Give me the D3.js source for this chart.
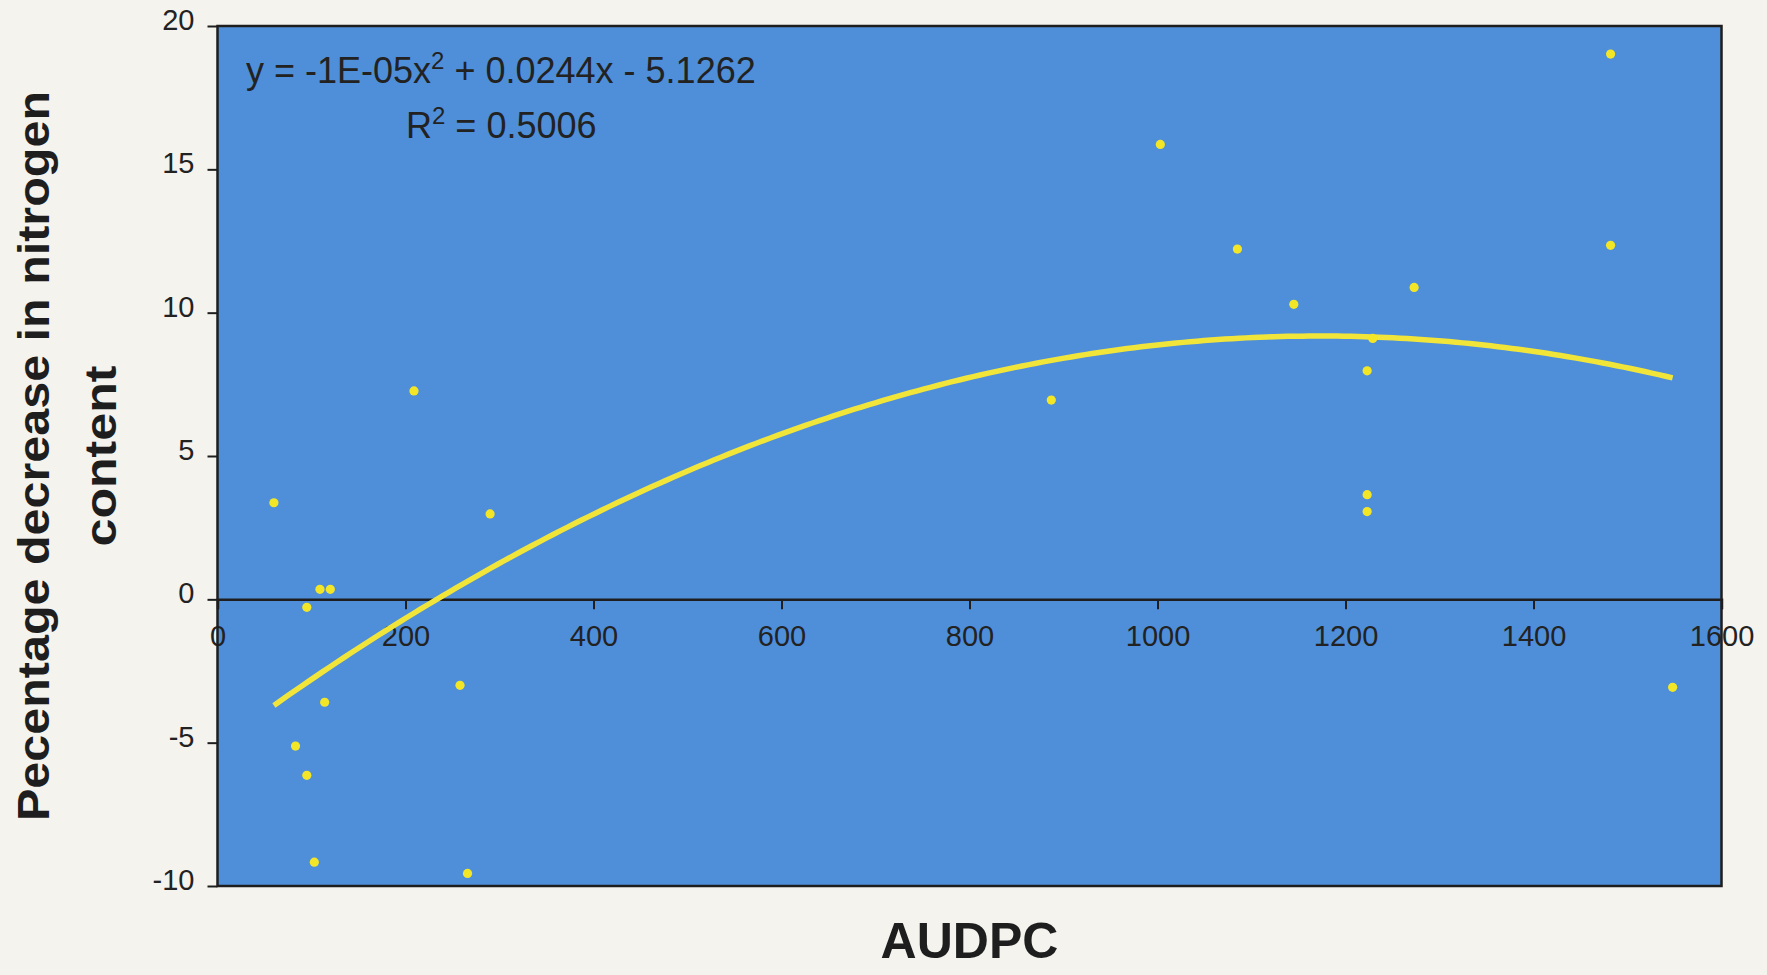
<!DOCTYPE html>
<html><head><meta charset="utf-8">
<script src="https://cdn.jsdelivr.net/npm/d3@7"></script>
<style>body{margin:0;background:#f4f3ee;} svg{display:block}</style>
</head><body>
<svg id="chart" width="1767" height="975"></svg>
<script>
// ---- data ----
const audpc = [60,95,109,120,83,95,114,103,209,290,258,266,887,1003,1085,1145,1223,1229,1223,1223,1273,1482,1482,1548];
const nDecrease = [3.37,-0.28,0.35,0.35,-5.12,-6.14,-3.59,-9.17,7.27,2.98,-3.0,-9.56,6.95,15.87,12.22,10.29,7.97,9.1,3.65,3.06,10.88,19.02,12.35,-3.07];
const xTicks = [0,200,400,600,800,1000,1200,1400,1600];
const yTicks = [-10,-5,0,5,10,15,20];
const trendCoef = [-1.04e-5, 0.0244, -5.1262]; // a, b, c of polynomial trendline
const eqParts = ["y = -1E-05x", "2", " + 0.0244x - 5.1262"];
const r2Parts = ["R", "2", " = 0.5006"];
const xTitle = "AUDPC";
const yTitleLines = ["Pecentage decrease in nitrogen", "content"];

// ---- layout ----
const W = 1767, H = 975;
const m = {left: 217.5, right: W - 1721.5, top: 26, bottom: H - 886};
const svg = d3.select("#chart");
svg.append("rect").attr("width", W).attr("height", H).attr("fill", "#f4f3ee");

const x = d3.scaleLinear().domain([0, 1600]).range([m.left, W - m.right]);
const y = d3.scaleLinear().domain([-10, 20]).range([H - m.bottom, m.top]);

const textCol = "#222222";
const font = "Liberation Sans, Arial, sans-serif";
const fmt = d => String(d);

// plot area
svg.append("rect")
  .attr("x", x(0)).attr("y", y(20))
  .attr("width", x(1600) - x(0)).attr("height", y(-10) - y(20))
  .attr("fill", "#4f8fd9");

// y axis
const gy = svg.append("g").attr("transform", `translate(${x(0)},0)`)
  .call(d3.axisLeft(y).tickValues(yTicks).tickSize(10).tickPadding(13).tickFormat(fmt));
gy.select(".domain").remove();
gy.selectAll("line").attr("stroke", "#1e1e1e").attr("stroke-width", 2);
gy.selectAll("text").attr("font-family", font).attr("font-size", 29).attr("fill", textCol).attr("dy", "0.12em");

// x axis on the zero line
const gx = svg.append("g").attr("transform", `translate(0,${y(0)})`)
  .call(d3.axisBottom(x).tickValues(xTicks).tickSize(10).tickPadding(16).tickFormat(fmt));
gx.select(".domain").attr("stroke", "#1e1e1e").attr("stroke-width", 2.5);
gx.selectAll("line").attr("stroke", "#1e1e1e").attr("stroke-width", 2);
gx.selectAll("text").attr("font-family", font).attr("font-size", 29).attr("fill", textCol);

// trendline
const [a, b, c] = trendCoef;
const xr = d3.extent(audpc);
const curve = d3.range(0, 201).map(i => {
  const xv = xr[0] + (xr[1] - xr[0]) * i / 200;
  return [xv, a * xv * xv + b * xv + c];
});
svg.append("path").datum(curve)
  .attr("d", d3.line().x(d => x(d[0])).y(d => y(d[1])))
  .attr("fill", "none").attr("stroke", "#f2e53a").attr("stroke-width", 5.5);

// points
svg.append("g").selectAll("circle").data(audpc.map((v, i) => [v, nDecrease[i]]))
  .join("circle")
  .attr("cx", d => x(d[0])).attr("cy", d => y(d[1])).attr("r", 4.6)
  .attr("fill", "#f3e626");

// border
svg.append("rect")
  .attr("x", x(0)).attr("y", y(20))
  .attr("width", x(1600) - x(0)).attr("height", y(-10) - y(20))
  .attr("fill", "none").attr("stroke", "#1e1e1e").attr("stroke-width", 2.5);

// equation text
const eq = svg.append("text").attr("x", 246).attr("y", 83)
  .attr("font-family", font).attr("font-size", 36).attr("fill", textCol);
eq.append("tspan").text(eqParts[0]);
eq.append("tspan").attr("font-size", 24).attr("dy", -14).text(eqParts[1]);
eq.append("tspan").attr("dy", 14).text(eqParts[2]);

const r2 = svg.append("text").attr("x", 406).attr("y", 138)
  .attr("font-family", font).attr("font-size", 36).attr("fill", textCol);
r2.append("tspan").text(r2Parts[0]);
r2.append("tspan").attr("font-size", 24).attr("dy", -14).text(r2Parts[1]);
r2.append("tspan").attr("dy", 14).text(r2Parts[2]);

// x title
svg.append("text").attr("x", (x(0) + x(1600)) / 2).attr("y", 958)
  .attr("text-anchor", "middle").attr("font-family", font).attr("font-weight", "bold")
  .attr("font-size", 50).attr("fill", "#1e1e1e").text(xTitle);

// y title
const yc = (y(20) + y(-10)) / 2;
[[49, 730], [116, 181]].forEach(([bx, len], i) => {
  svg.append("text")
    .attr("transform", `translate(${bx},${yc}) rotate(-90)`)
    .attr("text-anchor", "middle").attr("font-family", font).attr("font-weight", "bold")
    .attr("font-size", 44).attr("fill", "#1e1e1e")
    .attr("textLength", len).attr("lengthAdjust", "spacingAndGlyphs")
    .text(yTitleLines[i]);
});
</script>
</body></html>
